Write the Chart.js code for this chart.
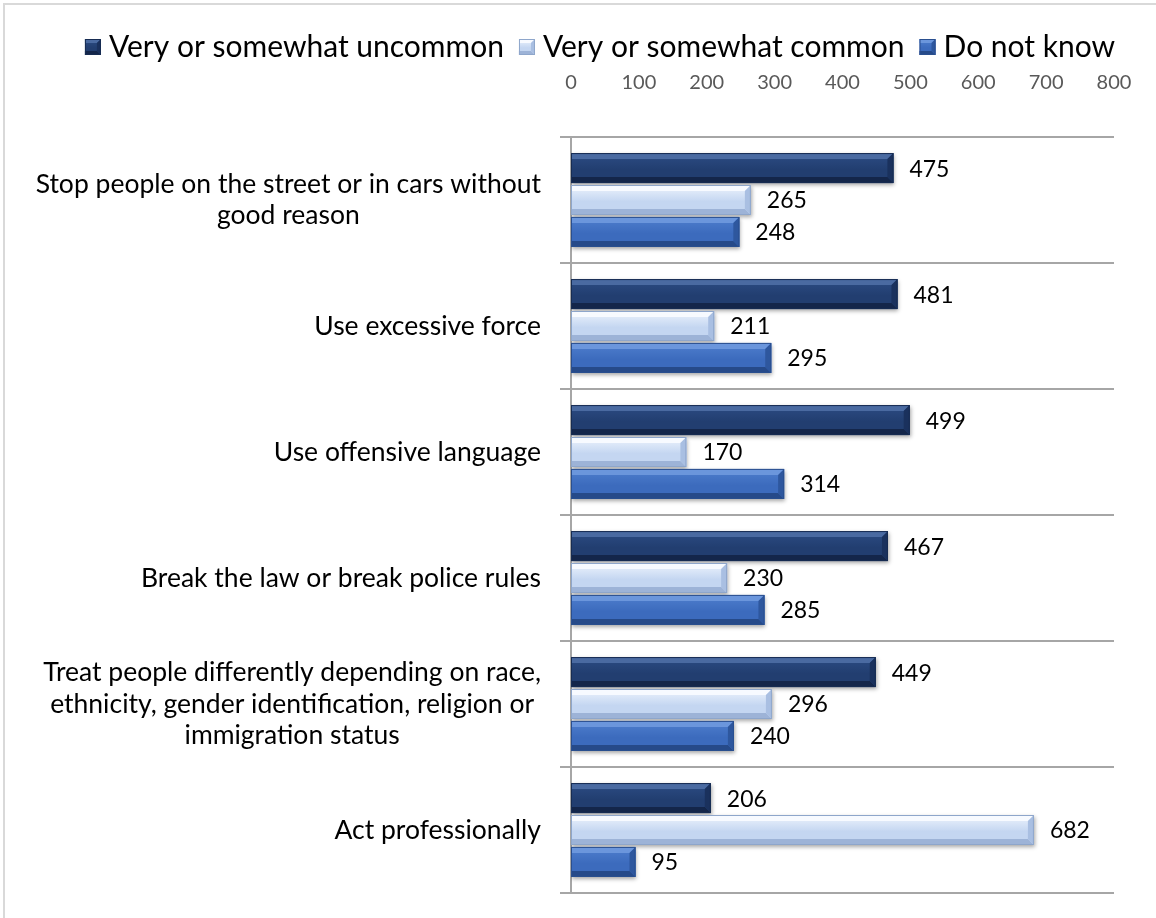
<!DOCTYPE html>
<html>
<head>
<meta charset="utf-8">
<script src="https://cdn.jsdelivr.net/npm/chart.js@4.4.1/dist/chart.umd.min.js"></script>
<style>
  html, body { margin: 0; padding: 0; background: #fff; }
  #wrap { width: 1156px; height: 918px; position: relative; }
</style>
</head>
<body>
<div id="wrap"><canvas id="grafico" width="1156" height="918"></canvas></div>
<script>
// categories (one entry per line of the label)
const categorias = [
  ['Stop people on the street or in cars without', 'good reason'],
  ['Use excessive force'],
  ['Use offensive language'],
  ['Break the law or break police rules'],
  ['Treat people differently depending on race,', 'ethnicity, gender identification, religion or', 'immigration status'],
  ['Act professionally']
];
const series = ['Very or somewhat uncommon', 'Very or somewhat common', 'Do not know'];
const poco = [475, 481, 499, 467, 449, 206];
const comun = [265, 211, 170, 230, 296, 682];
const noSabe = [248, 295, 314, 285, 240, 95];
const escalaMin = 0;
const escalaMax = 800;
const paso = 100;

const FUENTE = 'Lato, "Open Sans", sans-serif';

// colours for the bevelled bars: face, top facet, bottom facet, right facet, outline
const paletas = [
  { face: '#223e70', hi: '#2c4c84', top: '#4a6aa1', bot: '#14264a', right: '#1a315d', edge: '#172c52' },
  { face: '#c4d6f1', hi: '#eef4fd', top: '#f7faff', bot: '#9db3d7', right: '#a9bfe2', edge: '#8ea6cb' },
  { face: '#3c6bbd', hi: '#4f7fce', top: '#6b96dc', bot: '#264a89', right: '#2e579e', edge: '#2a4f8f' }
];

function dibujarBisel(ctx, x0, x1, y0, y1, pal, b) {
  const w = x1 - x0;
  if (w <= 0) return;
  b = Math.min(b, w / 2, (y1 - y0) / 2);
  const g = ctx.createLinearGradient(0, y0, 0, y1);
  g.addColorStop(0, pal.hi);
  g.addColorStop(0.55, pal.face);
  g.addColorStop(1, pal.face);
  ctx.fillStyle = g;
  ctx.fillRect(x0, y0, w, y1 - y0);

  // top facet
  ctx.beginPath();
  ctx.moveTo(x0, y0); ctx.lineTo(x1, y0); ctx.lineTo(x1 - b, y0 + b); ctx.lineTo(x0, y0 + b);
  ctx.closePath();
  ctx.fillStyle = pal.top; ctx.fill();
  // bottom facet
  ctx.beginPath();
  ctx.moveTo(x0, y1); ctx.lineTo(x1, y1); ctx.lineTo(x1 - b, y1 - b); ctx.lineTo(x0, y1 - b);
  ctx.closePath();
  ctx.fillStyle = pal.bot; ctx.fill();
  // right end facet
  ctx.beginPath();
  ctx.moveTo(x1, y0); ctx.lineTo(x1, y1); ctx.lineTo(x1 - b, y1 - b); ctx.lineTo(x1 - b, y0 + b);
  ctx.closePath();
  ctx.fillStyle = pal.right; ctx.fill();

  ctx.strokeStyle = pal.edge;
  ctx.lineWidth = 1;
  ctx.strokeRect(x0 + 0.5, y0 + 0.5, w - 1, y1 - y0 - 1);
}

// light grey frame around the chart
const marco = {
  id: 'marco',
  beforeDraw(chart) {
    const ctx = chart.ctx;
    ctx.save();
    ctx.strokeStyle = '#d9d9d9';
    ctx.lineWidth = 2;
    ctx.beginPath();
    ctx.moveTo(4, chart.height + 2);
    ctx.lineTo(4, 4);
    ctx.lineTo(chart.width + 2, 4);
    ctx.stroke();
    ctx.restore();
  }
};

// soft shadow under the bars, then bevel + value labels on top
const barras3d = {
  id: 'barras3d',
  beforeDatasetsDraw(chart) {
    const ctx = chart.ctx;
    ctx.save();
    ctx.shadowColor = 'rgba(0,0,0,0.35)';
    ctx.shadowBlur = 4;
    ctx.shadowOffsetX = 1;
    ctx.shadowOffsetY = 2;
  },
  afterDatasetsDraw(chart) {
    const ctx = chart.ctx;
    ctx.restore();
    ctx.save();
    chart.data.datasets.forEach((ds, i) => {
      const meta = chart.getDatasetMeta(i);
      meta.data.forEach((bar, j) => {
        const p = bar.getProps(['x', 'y', 'base', 'height'], true);
        const y0 = p.y - p.height / 2;
        const y1 = p.y + p.height / 2;
        dibujarBisel(ctx, Math.min(p.base, p.x), Math.max(p.base, p.x), y0, y1, paletas[i], 6);
        ctx.fillStyle = '#000';
        ctx.font = '23px ' + FUENTE;
        ctx.textAlign = 'left';
        ctx.textBaseline = 'middle';
        ctx.fillText(ds.data[j], p.x + 16, p.y + 1);
      });
    });
    ctx.restore();
  }
};

// category labels: each block right aligned to the axis, lines centred inside it
const etiquetas = {
  id: 'etiquetas',
  afterDraw(chart) {
    const ctx = chart.ctx;
    const ys = chart.scales.y;
    const derecha = chart.chartArea.left - 30;
    const lh = 31.5;
    ctx.save();
    ctx.font = '26.5px ' + FUENTE;
    ctx.fillStyle = '#000';
    ctx.textAlign = 'center';
    ctx.textBaseline = 'middle';
    categorias.forEach((lineas, i) => {
      const y = ys.getPixelForValue(i);
      const ancho = Math.max(...lineas.map(l => ctx.measureText(l).width));
      const cx = derecha - ancho / 2;
      lineas.forEach((l, k) => {
        ctx.fillText(l, cx, y + (k - (lineas.length - 1) / 2) * lh);
      });
    });
    ctx.restore();
  }
};

// legend drawn by hand so the bevelled squares sit close to their text
const leyenda = {
  id: 'leyenda',
  afterDraw(chart) {
    const ctx = chart.ctx;
    const caja = 16, hueco = 8, sep = 15;
    ctx.save();
    ctx.font = '30px ' + FUENTE;
    const anchos = series.map(s => ctx.measureText(s).width);
    const total = anchos.reduce((a, w) => a + caja + hueco + w, 0) + sep * (series.length - 1);
    let x = 600 - total / 2;
    const y = 46;
    series.forEach((s, i) => {
      dibujarBisel(ctx, x, x + caja, y - caja / 2 + 1, y + caja / 2 + 1, paletas[i], 4);
      ctx.fillStyle = '#000';
      ctx.textAlign = 'left';
      ctx.textBaseline = 'middle';
      ctx.fillText(s, x + caja + hueco, y + 1);
      x += caja + hueco + anchos[i] + sep;
    });
    ctx.restore();
  }
};

const ctx = document.getElementById('grafico').getContext('2d');
new Chart(ctx, {
  type: 'bar',
  data: {
    labels: categorias,
    datasets: [poco, comun, noSabe].map((d, i) => ({
      label: series[i],
      data: d,
      backgroundColor: paletas[i].face,
      borderWidth: 0,
      categoryPercentage: 0.76,
      barPercentage: 0.94
    }))
  },
  options: {
    indexAxis: 'y',
    responsive: false,
    animation: false,
    devicePixelRatio: 1,
    layout: { padding: { top: 71, right: 42, bottom: 25, left: 0 } },
    plugins: {
      legend: { display: false },
      tooltip: { enabled: false }
    },
    scales: {
      x: {
        position: 'top',
        min: escalaMin,
        max: escalaMax,
        // tick marks hidden, their length only keeps the labels clear of the bars
        grid: { display: false, drawTicks: true, tickLength: 38 },
        border: { display: false },
        ticks: {
          stepSize: paso,
          color: '#595959',
          font: { family: FUENTE, size: 20 },
          padding: 4
        },
        afterFit(s) { s.height = 66; }
      },
      y: {
        grid: { color: '#a6a6a6', lineWidth: 2, tickLength: 11, offset: true },
        border: { color: '#a6a6a6', width: 2 },
        ticks: { display: false },
        afterFit(s) { s.width = 571; }
      }
    }
  },
  plugins: [marco, barras3d, etiquetas, leyenda]
});
</script>
</body>
</html>
